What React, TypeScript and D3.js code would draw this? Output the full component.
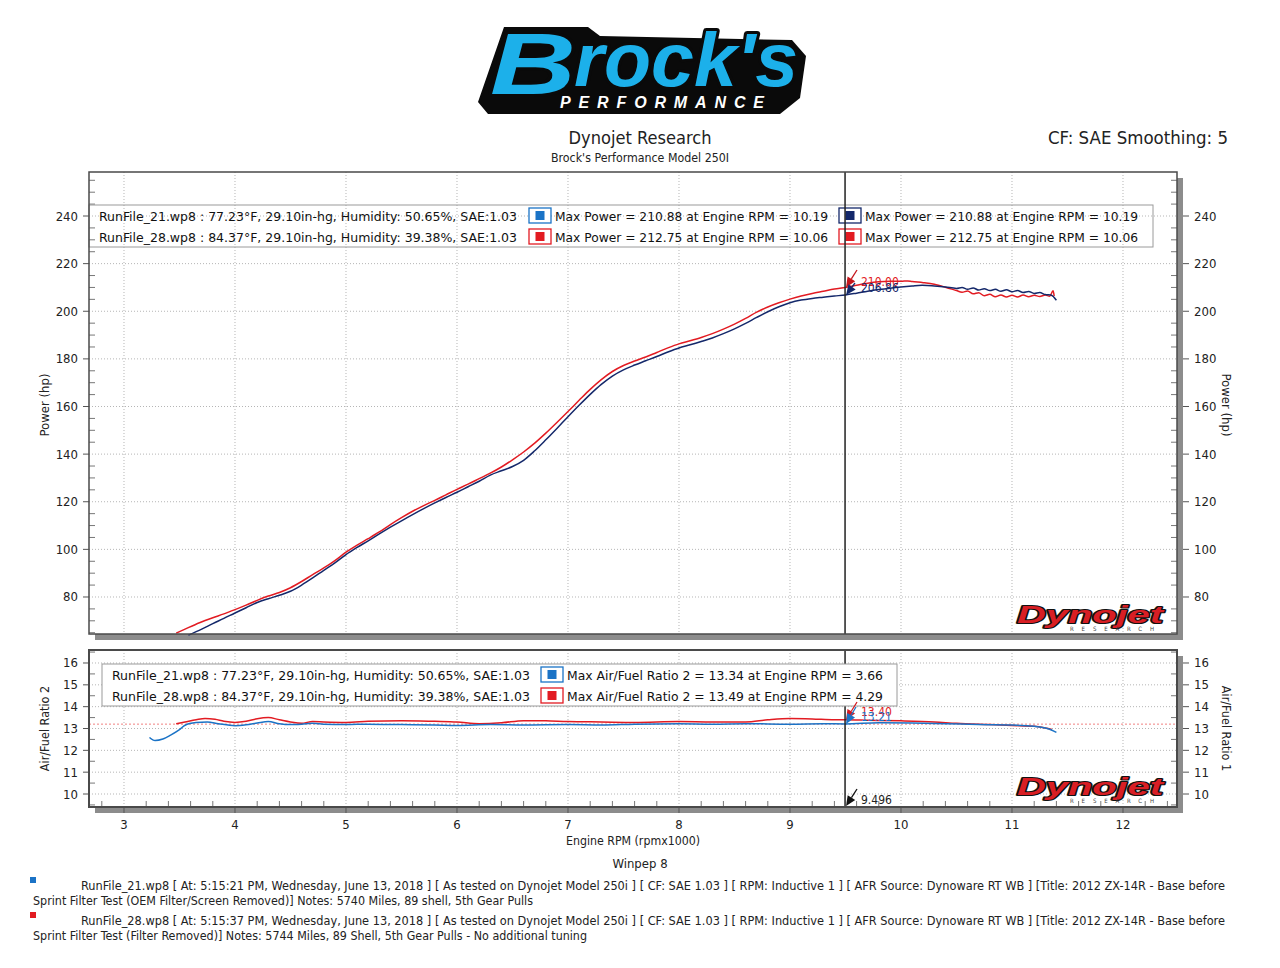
import React from "react";
import * as d3 from "d3";

type P = [number, number];

// ---------- data ----------
const rpmTicks = [3, 4, 5, 6, 7, 8, 9, 10, 11, 12];
const powerTicks = [80, 100, 120, 140, 160, 180, 200, 220, 240];
const afrTicks = [10, 11, 12, 13, 14, 15, 16];

// RunFile_21 power (navy)
const power21: P[] = [
  [3.58, 64.0], [3.7, 66.5], [3.8, 68.8], [3.9, 71.0], [4.0, 73.3], [4.1, 75.5], [4.2, 77.7], [4.3, 79.3],
  [4.4, 80.7], [4.5, 82.4], [4.6, 85.0], [4.7, 88.0], [4.8, 91.2], [4.9, 94.3], [5.0, 97.8], [5.1, 100.8],
  [5.2, 103.6], [5.3, 106.5], [5.4, 109.3], [5.5, 112.0], [5.6, 114.6], [5.7, 117.1], [5.8, 119.5],
  [5.9, 121.8], [6.0, 124.0], [6.1, 126.3], [6.2, 128.6], [6.3, 131.2], [6.4, 133.0], [6.5, 134.8],
  [6.6, 137.4], [6.7, 141.4], [6.8, 146.0], [6.9, 150.8], [7.0, 155.7], [7.1, 160.5], [7.2, 165.1],
  [7.3, 169.3], [7.4, 172.8], [7.5, 175.4], [7.6, 177.4], [7.7, 179.2], [7.8, 181.0], [7.9, 182.9],
  [8.0, 184.6], [8.1, 185.9], [8.2, 187.3], [8.3, 188.8], [8.4, 190.6], [8.5, 192.6], [8.6, 194.9],
  [8.7, 197.4], [8.8, 199.8], [8.9, 201.9], [9.0, 203.6], [9.1, 204.7], [9.2, 205.4], [9.3, 205.9],
  [9.4, 206.4], [9.5, 206.86], [9.6, 207.6], [9.7, 208.4], [9.8, 209.1], [9.9, 209.7], [10.0, 210.2],
  [10.1, 210.6], [10.19, 210.88], [10.3, 210.6], [10.4, 210.2], [10.5, 209.6], [10.55, 210.0],
  [10.6, 209.2], [10.65, 209.8], [10.7, 208.9], [10.75, 209.5], [10.8, 208.7], [10.85, 209.2],
  [10.9, 208.4], [10.95, 209.0], [11.0, 208.2], [11.05, 208.7], [11.1, 207.9], [11.15, 208.3],
  [11.2, 207.5], [11.25, 207.9], [11.3, 207.0], [11.35, 206.8], [11.4, 204.6],
];

// RunFile_28 power (red)
const power28: P[] = [
  [3.47, 64.8], [3.55, 66.5], [3.68, 69.2], [3.8, 71.3], [3.9, 72.9], [4.0, 74.7], [4.1, 76.6], [4.2, 78.6],
  [4.3, 80.4], [4.4, 81.9], [4.5, 83.9], [4.6, 86.5], [4.7, 89.4], [4.8, 92.2], [4.9, 95.3], [5.0, 98.8],
  [5.1, 101.8], [5.2, 104.5], [5.3, 107.3], [5.4, 110.4], [5.5, 113.3], [5.6, 116.0], [5.7, 118.4],
  [5.8, 120.6], [5.9, 122.9], [6.0, 125.2], [6.1, 127.4], [6.2, 129.7], [6.3, 132.0], [6.4, 134.6],
  [6.5, 137.6], [6.6, 140.9], [6.7, 144.6], [6.8, 148.8], [6.9, 153.3], [7.0, 157.9], [7.1, 162.6],
  [7.2, 167.2], [7.3, 171.3], [7.4, 174.7], [7.5, 177.2], [7.6, 179.1], [7.7, 180.8], [7.8, 182.7],
  [7.9, 184.6], [8.0, 186.3], [8.1, 187.6], [8.2, 189.0], [8.3, 190.6], [8.4, 192.5], [8.5, 194.6],
  [8.6, 197.0], [8.7, 199.6], [8.8, 201.8], [8.9, 203.6], [9.0, 205.1], [9.1, 206.4], [9.2, 207.5],
  [9.3, 208.4], [9.4, 209.3], [9.5, 210.0], [9.6, 210.9], [9.7, 211.8], [9.8, 212.4], [9.9, 212.6],
  [10.0, 212.6], [10.06, 212.75], [10.1, 212.5], [10.2, 212.0], [10.3, 211.3], [10.4, 210.1],
  [10.5, 208.7], [10.55, 208.0], [10.6, 208.5], [10.65, 207.3], [10.7, 207.8], [10.75, 206.5],
  [10.8, 207.1], [10.85, 206.1], [10.9, 206.8], [10.95, 206.0], [11.0, 206.7], [11.05, 206.0],
  [11.1, 206.8], [11.15, 206.1], [11.2, 206.7], [11.25, 206.2], [11.3, 206.8], [11.34, 206.3],
  [11.37, 208.6], [11.38, 206.4],
];

// RunFile_21 AFR (blue)
const afr21: P[] = [
  [3.23, 12.59], [3.28, 12.45], [3.35, 12.52], [3.42, 12.7], [3.5, 12.95], [3.55, 13.15], [3.65, 13.27],
  [3.75, 13.3], [3.85, 13.22], [4.0, 13.13], [4.1, 13.17], [4.2, 13.25], [4.3, 13.32], [4.4, 13.22],
  [4.5, 13.18], [4.6, 13.2], [4.7, 13.24], [4.8, 13.2], [5.0, 13.18], [5.2, 13.2], [5.5, 13.18],
  [5.8, 13.16], [6.0, 13.14], [6.3, 13.18], [6.6, 13.16], [7.0, 13.18], [7.3, 13.16], [7.6, 13.2],
  [8.0, 13.22], [8.3, 13.2], [8.6, 13.22], [9.0, 13.2], [9.3, 13.22], [9.5, 13.21], [9.8, 13.26],
  [10.1, 13.25], [10.4, 13.22], [10.7, 13.18], [11.0, 13.16], [11.2, 13.1], [11.3, 13.02],
  [11.36, 12.92], [11.4, 12.82],
];

// RunFile_28 AFR (red)
const afr28: P[] = [
  [3.47, 13.22], [3.55, 13.3], [3.65, 13.4], [3.73, 13.46], [3.82, 13.42], [3.9, 13.33], [4.0, 13.28],
  [4.1, 13.33], [4.2, 13.45], [4.3, 13.5], [4.4, 13.4], [4.5, 13.3], [4.6, 13.24], [4.7, 13.32],
  [4.8, 13.3], [5.0, 13.28], [5.2, 13.33], [5.5, 13.36], [5.8, 13.33], [6.0, 13.3], [6.2, 13.22],
  [6.4, 13.26], [6.6, 13.36], [6.8, 13.35], [7.0, 13.32], [7.3, 13.3], [7.6, 13.28], [8.0, 13.32],
  [8.3, 13.3], [8.6, 13.3], [8.8, 13.4], [9.0, 13.46], [9.2, 13.44], [9.4, 13.4], [9.5, 13.4],
  [9.7, 13.38], [10.0, 13.35], [10.3, 13.3], [10.5, 13.24], [10.8, 13.18], [11.0, 13.14],
  [11.2, 13.1], [11.3, 13.02], [11.36, 12.95],
];

const runLabels = [
  "RunFile_21.wp8 : 77.23°F, 29.10in-hg, Humidity: 50.65%, SAE:1.03",
  "RunFile_28.wp8 : 84.37°F, 29.10in-hg, Humidity: 39.38%, SAE:1.03",
];
const powerMaxLabels = [
  "Max Power = 210.88 at Engine RPM = 10.19",
  "Max Power = 212.75 at Engine RPM = 10.06",
];
const afrMaxLabels = [
  "Max Air/Fuel Ratio 2 = 13.34 at Engine RPM = 3.66",
  "Max Air/Fuel Ratio 2 = 13.49 at Engine RPM = 4.29",
];
const cursorRpm = 9.496;
const cursorPower = [206.86, 210.0];
const cursorAfr = [13.21, 13.4];
const afrTarget = 13.2;

const footerLines = [
  "RunFile_21.wp8 [ At: 5:15:21 PM, Wednesday, June 13, 2018 ] [ As tested on Dynojet Model 250i ] [ CF: SAE 1.03 ] [ RPM: Inductive 1 ] [ AFR Source: Dynoware RT WB ] [Title: 2012 ZX-14R - Base before",
  "Sprint Filter Test (OEM Filter/Screen Removed)]  Notes: 5740 Miles, 89 shell, 5th Gear Pulls",
  "RunFile_28.wp8 [ At: 5:15:37 PM, Wednesday, June 13, 2018 ] [ As tested on Dynojet Model 250i ] [ CF: SAE 1.03 ] [ RPM: Inductive 1 ] [ AFR Source: Dynoware RT WB ] [Title: 2012 ZX-14R - Base before",
  "Sprint Filter Test (Filter Removed)]  Notes: 5744 Miles, 89 Shell, 5th Gear Pulls - No additional tuning",
];

// ---------- style ----------
const FONT = "'DejaVu Sans Condensed','DejaVu Sans',sans-serif";
const NAVY = "#14286a";
const RED = "#e21b22";
const BLUE = "#1b73c6";
const FRAME = "#4a4a4a";
const SHADOW = "#8c8c8c";
const GRID = "#b5b5b5";

const X0 = 89, X1 = 1177;
const T0 = 172, T1 = 634;
const L0 = 650, L1 = 807;

const x = d3.scaleLinear().domain([2.6847, 12.4865]).range([X0, X1]);
const yP = d3.scaleLinear().domain([64.46, 258.48]).range([T1, T0]);
const yA = d3.scaleLinear().domain([9.405, 16.595]).range([L1, L0]);

function Arrow({ x1, y1, x2, y2, color }: { x1: number; y1: number; x2: number; y2: number; color: string }) {
  const dx = x2 - x1, dy = y2 - y1;
  const len = Math.hypot(dx, dy);
  const ux = dx / len, uy = dy / len;
  const bx = x2 - ux * 10, by = y2 - uy * 10;
  const px = -uy * 4.5, py = ux * 4.5;
  return (
    <g>
      <line x1={x1} y1={y1} x2={bx} y2={by} stroke={color} strokeWidth={1.3} />
      <polygon points={`${x2},${y2} ${bx + px},${by + py} ${bx - px},${by - py}`} fill={color} />
    </g>
  );
}

function DynojetLogo({ yBase }: { yBase: number }) {
  return (
    <g>
      <text x={1017} y={yBase} fontFamily="'Liberation Sans',Arial,sans-serif" fontWeight={900} fontStyle="italic"
        fontSize={23} fill="#d81e24" stroke="#111" strokeWidth={2.2} paintOrder="stroke" strokeLinejoin="round"
        textLength={146} lengthAdjust="spacingAndGlyphs">Dynojet</text>
      <text x={1070} y={yBase + 7.5} fontFamily={FONT} fontSize={6} fill="#444" textLength={84}
        lengthAdjust="spacing">RESEARCH</text>
    </g>
  );
}

function Legend({ x0, y0, w, swX, labels, maxLabels, colors, twoCols, filled }: any) {
  return (
    <g>
      <rect x={x0} y={y0} width={w} height={42} fill={filled ? "white" : "none"} stroke="#9a9a9a" strokeWidth={1} />
      {labels.map((lab: string, i: number) => {
        const yy = y0 + 3 + i * 21;
        const cols = twoCols ? [0, 1] : [0];
        return (
          <g key={i}>
            <text x={x0 + 10} y={yy + 13} fontFamily={FONT} fontSize={13} fill="#111"
              textLength={418} lengthAdjust="spacingAndGlyphs">{lab}</text>
            {cols.map((c) => {
              const sx = swX + c * 310;
              const col = colors[i][c];
              return (
                <g key={c}>
                  <rect x={sx} y={yy} width={22} height={15} fill="white" stroke={col} strokeWidth={1.3} />
                  <rect x={sx + 6.5} y={yy + 3} width={9} height={9} fill={col} />
                  <text x={sx + 26} y={yy + 13} fontFamily={FONT} fontSize={13} fill="#111"
                    textLength={twoCols ? 273 : 316} lengthAdjust="spacingAndGlyphs">{maxLabels[i]}</text>
                </g>
              );
            })}
          </g>
        );
      })}
    </g>
  );
}

export default function App() {
  const lineP = d3.line<P>().x((d) => x(d[0])).y((d) => yP(d[1])).curve(d3.curveMonotoneX);
  const lineA = d3.line<P>().x((d) => x(d[0])).y((d) => yA(d[1])).curve(d3.curveMonotoneX);

  const pMinor = d3.range(65, 258, 5).filter((v) => v % 20 !== 0);
  const aMinor = d3.range(9.5, 16.6, 0.5).filter((v) => Math.abs(v - Math.round(v)) > 0.01);
  const xMinor = d3.range(2.8, 12.45, 0.2).filter((v) => Math.abs(v - Math.round(v)) > 0.01);
  const cx = x(cursorRpm);

  return (
    <svg width={1280} height={968} style={{ position: "absolute", left: 0, top: 0, background: "white" }}
      fontFamily={FONT}>
      <rect x={0} y={0} width={1280} height={968} fill="white" />

      {/* Brock's logo */}
      <g>
        <path d="M504,27 L588,27 L600,36 L792,40 L806,56 L800,98 L780,114 L488,114 L478,102 Z" fill="#0a0a0a" />
        <text x={490} y={94} fontFamily="'Liberation Sans',Arial,sans-serif" fontWeight={900} fontStyle="italic"
          fontSize={88} fill="#1cb0ea" stroke="#0a0a0a" strokeWidth={6} paintOrder="stroke" strokeLinejoin="round"
          textLength={86} lengthAdjust="spacingAndGlyphs">B</text>
        <text x={574} y={86} fontFamily="'Liberation Sans',Arial,sans-serif" fontWeight={900} fontStyle="italic"
          fontSize={76} fill="#1cb0ea" stroke="#0a0a0a" strokeWidth={6} paintOrder="stroke" strokeLinejoin="round"
          textLength={224} lengthAdjust="spacingAndGlyphs">rock's</text>
        <text x={560} y={108} fontFamily="'Liberation Sans',Arial,sans-serif" fontWeight={900} fontStyle="italic"
          fontSize={16} fill="white" textLength={204} lengthAdjust="spacing">PERFORMANCE</text>
      </g>

      {/* titles */}
      <text x={640} y={144} textAnchor="middle" fontSize={18} fill="#222" textLength={143}
        lengthAdjust="spacingAndGlyphs">Dynojet Research</text>
      <text x={640} y={162} textAnchor="middle" fontSize={12} fill="#222" textLength={178}
        lengthAdjust="spacingAndGlyphs">Brock's Performance Model 250I</text>
      <text x={1228} y={144} textAnchor="end" fontSize={18} fill="#222" textLength={180}
        lengthAdjust="spacingAndGlyphs">CF: SAE Smoothing: 5</text>

      {/* ===== top chart ===== */}
      <rect x={X0 + 6} y={T1} width={X1 - X0} height={6} fill={SHADOW} />
      <rect x={X1} y={T0 + 6} width={6} height={T1 - T0} fill={SHADOW} />
      <rect x={X0} y={T0} width={X1 - X0} height={T1 - T0} fill="white" />
      {powerTicks.map((v) => (
        <line key={"gp" + v} x1={X0} x2={X1} y1={yP(v)} y2={yP(v)} stroke={GRID} strokeDasharray="1,2" />
      ))}
      {rpmTicks.map((v) => (
        <line key={"gx" + v} x1={x(v)} x2={x(v)} y1={T0} y2={T1} stroke={GRID} strokeDasharray="1,2" />
      ))}
      {pMinor.map((v) => (
        <g key={"mp" + v}>
          <line x1={X0} x2={X0 + 6} y1={yP(v)} y2={yP(v)} stroke="#777" />
          <line x1={X1 - 6} x2={X1} y1={yP(v)} y2={yP(v)} stroke="#777" />
        </g>
      ))}
      {powerTicks.map((v) => (
        <g key={"tp" + v}>
          <line x1={X0 - 6} x2={X0} y1={yP(v)} y2={yP(v)} stroke="#555" />
          <line x1={X1 + 6} x2={X1 + 12} y1={yP(v)} y2={yP(v)} stroke="#555" />
          <text x={78} y={yP(v) + 4.5} textAnchor="end" fontSize={13} fill="#222">{v}</text>
          <text x={1194} y={yP(v) + 4.5} textAnchor="start" fontSize={13} fill="#222">{v}</text>
        </g>
      ))}
      <text transform={`translate(49,${(T0 + T1) / 2 + 2}) rotate(-90)`} textAnchor="middle" fontSize={13}
        fill="#222">Power (hp)</text>
      <text transform={`translate(1222,${(T0 + T1) / 2 + 2}) rotate(90)`} textAnchor="middle" fontSize={13}
        fill="#222">Power (hp)</text>

      <DynojetLogo yBase={623} />

      <path d={lineP(power28) || ""} fill="none" stroke={RED} strokeWidth={1.5} />
      <path d={lineP(power21) || ""} fill="none" stroke={NAVY} strokeWidth={1.5} />

      <Legend x0={89} y0={205} w={1064} swX={529} labels={runLabels} maxLabels={powerMaxLabels} twoCols={true}
        filled={false} colors={[[BLUE, NAVY], [RED, RED]]} />

      <line x1={cx} x2={cx} y1={T0} y2={T1} stroke="#222" strokeWidth={1.5} />
      <Arrow x1={857} y1={270} x2={cx + 1} y2={yP(cursorPower[1])} color="#c4161c" />
      <Arrow x1={855} y1={283} x2={cx + 1} y2={yP(cursorPower[0])} color={NAVY} />
      <text x={861} y={286} fontSize={12} fill={RED}>{cursorPower[1].toFixed(2)}</text>
      <text x={861} y={292} fontSize={12} fill={NAVY}>{cursorPower[0].toFixed(2)}</text>
      <rect x={X0} y={T0} width={X1 - X0} height={T1 - T0} fill="none" stroke={FRAME} strokeWidth={1.5} />

      {/* ===== lower chart ===== */}
      <rect x={X0 + 6} y={L1} width={X1 - X0} height={6} fill={SHADOW} />
      <rect x={X1} y={L0 + 6} width={6} height={L1 - L0} fill={SHADOW} />
      <rect x={X0} y={L0} width={X1 - X0} height={L1 - L0} fill="white" />
      {afrTicks.map((v) => (
        <line key={"ga" + v} x1={X0} x2={X1} y1={yA(v)} y2={yA(v)} stroke={GRID} strokeDasharray="1,2" />
      ))}
      {rpmTicks.map((v) => (
        <line key={"gxa" + v} x1={x(v)} x2={x(v)} y1={L0} y2={L1} stroke={GRID} strokeDasharray="1,2" />
      ))}
      {aMinor.map((v) => (
        <g key={"ma" + v}>
          <line x1={X0} x2={X0 + 6} y1={yA(v)} y2={yA(v)} stroke="#777" />
          <line x1={X1 - 6} x2={X1} y1={yA(v)} y2={yA(v)} stroke="#777" />
        </g>
      ))}
      {xMinor.map((v) => (
        <line key={"mx" + v.toFixed(1)} x1={x(v)} x2={x(v)} y1={L1 - 6} y2={L1} stroke="#777" />
      ))}
      {afrTicks.map((v) => (
        <g key={"ta" + v}>
          <line x1={X0 - 6} x2={X0} y1={yA(v)} y2={yA(v)} stroke="#555" />
          <line x1={X1 + 6} x2={X1 + 12} y1={yA(v)} y2={yA(v)} stroke="#555" />
          <text x={78} y={yA(v) + 4.5} textAnchor="end" fontSize={13} fill="#222">{v}</text>
          <text x={1194} y={yA(v) + 4.5} textAnchor="start" fontSize={13} fill="#222">{v}</text>
        </g>
      ))}
      {rpmTicks.map((v) => (
        <g key={"tx" + v}>
          <line x1={x(v)} x2={x(v)} y1={L1} y2={L1 + 6} stroke="#555" />
          <text x={x(v)} y={829} textAnchor="middle" fontSize={13} fill="#222">{v}</text>
        </g>
      ))}
      <text transform={`translate(49,${(L0 + L1) / 2}) rotate(-90)`} textAnchor="middle" fontSize={12.5}
        fill="#222">Air/Fuel Ratio 2</text>
      <text transform={`translate(1222,${(L0 + L1) / 2}) rotate(90)`} textAnchor="middle" fontSize={12.5}
        fill="#222">Air/Fuel Ratio 1</text>

      <DynojetLogo yBase={795} />

      <line x1={X0} x2={X1} y1={yA(afrTarget)} y2={yA(afrTarget)} stroke="#f08080" strokeDasharray="2,2" />
      <path d={lineA(afr28) || ""} fill="none" stroke={RED} strokeWidth={1.5} />
      <path d={lineA(afr21) || ""} fill="none" stroke={BLUE} strokeWidth={1.5} />

      <line x1={cx} x2={cx} y1={L0} y2={L1} stroke="#222" strokeWidth={1.5} />
      <Legend x0={102} y0={664} w={795} swX={541} labels={runLabels} maxLabels={afrMaxLabels} twoCols={false}
        filled={true} colors={[[BLUE], [RED]]} />

      <Arrow x1={857} y1={702} x2={cx + 1} y2={yA(cursorAfr[1])} color="#d41b22" />
      <Arrow x1={856} y1={707} x2={cx + 1} y2={yA(cursorAfr[0])} color={BLUE} />
      <text x={861} y={716} fontSize={12} fill={RED}>{cursorAfr[1].toFixed(2)}</text>
      <text x={861} y={721} fontSize={12} fill={BLUE}>{cursorAfr[0].toFixed(2)}</text>
      <Arrow x1={857} y1={789} x2={cx + 1} y2={L1 - 1} color="#111" />
      <text x={861} y={804} fontSize={12} fill="#222">{cursorRpm.toFixed(3)}</text>
      <rect x={X0} y={L0} width={X1 - X0} height={L1 - L0} fill="none" stroke={FRAME} strokeWidth={2} />

      {/* axis title & footer */}
      <text x={633} y={845} textAnchor="middle" fontSize={13} fill="#222" textLength={134}
        lengthAdjust="spacingAndGlyphs">Engine RPM (rpmx1000)</text>
      <text x={640} y={868} textAnchor="middle" fontSize={13} fill="#222">Winpep 8</text>

      <rect x={30} y={877} width={6} height={6} fill={BLUE} />
      <text x={81} y={890} fontSize={12} fill="#222" textLength={1144} lengthAdjust="spacingAndGlyphs">{footerLines[0]}</text>
      <text x={33} y={905} fontSize={12} fill="#222" textLength={500} lengthAdjust="spacingAndGlyphs">{footerLines[1]}</text>
      <rect x={30} y={912} width={6} height={6} fill={RED} />
      <text x={81} y={925} fontSize={12} fill="#222" textLength={1144} lengthAdjust="spacingAndGlyphs">{footerLines[2]}</text>
      <text x={33} y={940} fontSize={12} fill="#222" textLength={554} lengthAdjust="spacingAndGlyphs">{footerLines[3]}</text>
    </svg>
  );
}
